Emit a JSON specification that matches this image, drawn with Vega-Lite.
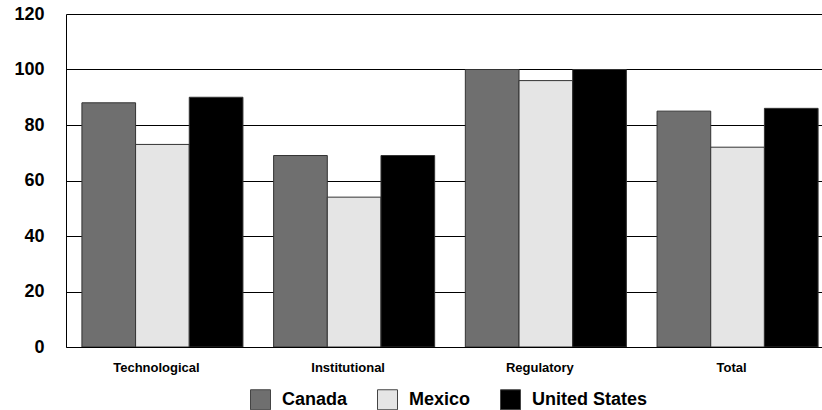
{
  "$schema": "https://vega.github.io/schema/vega-lite/v6.json",
  "autosize": {"type": "none"},
  "padding": {"left": 66, "top": 14, "right": 0, "bottom": 63},
  "width": 756,
  "height": 333,
  "background": "white",
  "config": {
    "view": {"stroke": null},
    "font": "Liberation Sans"
  },
  "data": {
    "values": [
      {"category": "Technological", "country": "Canada", "value": 88},
      {"category": "Technological", "country": "Mexico", "value": 73},
      {"category": "Technological", "country": "United States", "value": 90},
      {"category": "Institutional", "country": "Canada", "value": 69},
      {"category": "Institutional", "country": "Mexico", "value": 54},
      {"category": "Institutional", "country": "United States", "value": 69},
      {"category": "Regulatory", "country": "Canada", "value": 100},
      {"category": "Regulatory", "country": "Mexico", "value": 96},
      {"category": "Regulatory", "country": "United States", "value": 100},
      {"category": "Total", "country": "Canada", "value": 85},
      {"category": "Total", "country": "Mexico", "value": 72},
      {"category": "Total", "country": "United States", "value": 86}
    ]
  },
  "mark": {"type": "bar", "stroke": "#333333", "strokeWidth": 1, "clip": true},
  "encoding": {
    "x": {
      "field": "category",
      "type": "nominal",
      "sort": ["Technological", "Institutional", "Regulatory", "Total"],
      "scale": {"range": [0, 768], "paddingInner": 0.16, "paddingOuter": 0.083},
      "axis": {
        "title": null,
        "labelAngle": 0,
        "labelFont": "Liberation Sans",
        "labelFontWeight": "bold",
        "labelFontSize": 13,
        "labelColor": "black",
        "labelPadding": 14,
        "labelOffset": -6,
        "ticks": false,
        "tickSize": 0,
        "domainColor": "black",
        "domainWidth": 1,
        "grid": false
      }
    },
    "xOffset": {
      "field": "country",
      "type": "nominal",
      "sort": ["Canada", "Mexico", "United States"],
      "scale": {"paddingInner": 0, "paddingOuter": 0}
    },
    "y": {
      "field": "value",
      "type": "quantitative",
      "scale": {"domain": [0, 120], "nice": false},
      "axis": {
        "title": null,
        "values": [0, 20, 40, 60, 80, 100, 120],
        "labelFont": "Liberation Sans",
        "labelFontWeight": "bold",
        "labelFontSize": 18,
        "labelColor": "black",
        "labelPadding": 22,
        "ticks": false,
        "tickSize": 0,
        "domainColor": "black",
        "domainWidth": 1,
        "grid": true,
        "gridColor": "black",
        "gridWidth": 1,
        "gridOpacity": 1
      }
    },
    "fill": {
      "field": "country",
      "type": "nominal",
      "sort": ["Canada", "Mexico", "United States"],
      "scale": {
        "domain": ["Canada", "Mexico", "United States"],
        "range": ["#6f6f6f", "#e5e5e5", "#000000"]
      },
      "legend": {
        "title": null,
        "orient": "none",
        "direction": "horizontal",
        "legendX": 184,
        "legendY": 375,
        "padding": 0,
        "symbolType": "square",
        "symbolSize": 400,
        "symbolStrokeColor": "#444444",
        "symbolStrokeWidth": 1,
        "labelFont": "Liberation Sans",
        "labelFontWeight": "bold",
        "labelFontSize": 18,
        "labelColor": "black",
        "labelOffset": 11,
        "columnPadding": 27,
        "labelLimit": 300
      }
    }
  }
}
